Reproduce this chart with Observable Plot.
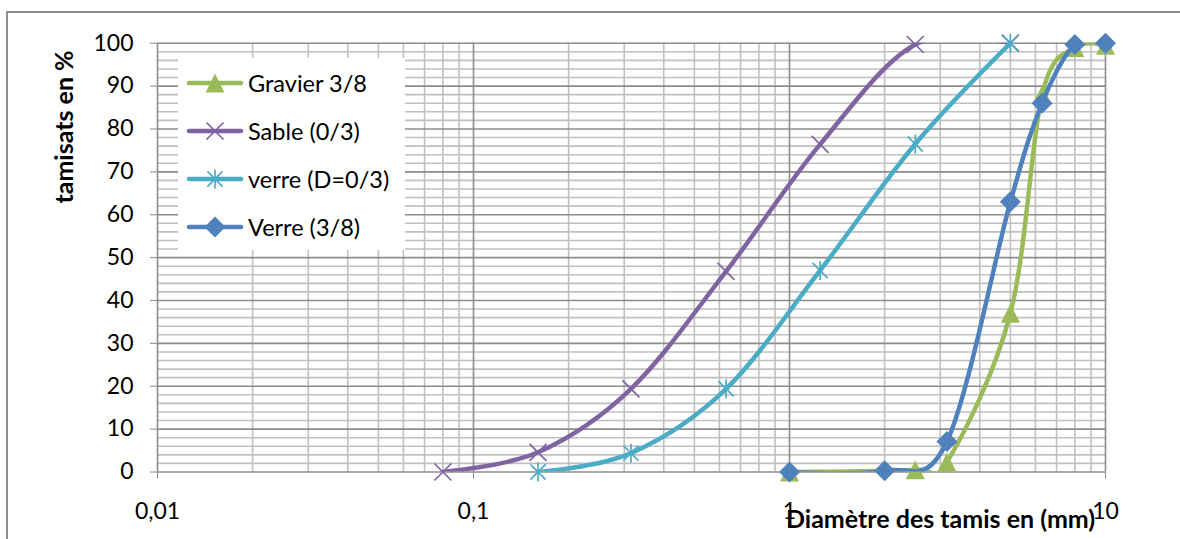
<!DOCTYPE html>
<html>
<head>
<meta charset="utf-8">
<script src="https://cdn.jsdelivr.net/npm/d3@7"></script>
<script src="https://cdn.jsdelivr.net/npm/@observablehq/plot@0.6"></script>
<style>
  html, body { margin: 0; padding: 0; background: #fff; }
  #wrap { position: relative; width: 1180px; height: 539px; overflow: hidden; font-family: Lato, "Liberation Sans", sans-serif; }
  #chart { position: absolute; left: 0; top: 0; }
  #frame { position: absolute; left: 6px; top: 11px; width: 1400px; height: 800px; border-left: 2px solid #8c8c8c; border-top: 2px solid #8c8c8c; pointer-events: none; }
  #legend { position: absolute; left: 178px; top: 58px; width: 227px; height: 192px; background: #fff; }
  .item { position: absolute; left: 8px; height: 30px; display: flex; align-items: center; font-size: 23.5px; color: #000; white-space: nowrap; }
  .item svg { margin-right: 4px; }
  #ytitle { position: absolute; left: 63px; top: 127px; transform: translate(-50%, -50%) rotate(-90deg); font-weight: bold; font-size: 25px; line-height: 1; white-space: nowrap; }
  #xtitle { position: absolute; left: 786px; top: 506px; font-weight: bold; font-size: 25px; line-height: 1; white-space: nowrap; }
</style>
</head>
<body>
<div id="wrap">
  <div id="chart"></div>
  <div id="legend"></div>
  <div id="ytitle">tamisats en %</div>
  <div id="xtitle">Diamètre des tamis en (mm)</div>
  <div id="frame"></div>
</div>
<script>
// ---- data (sieve openings in mm, passing in %) ----
const seriesNames = ["Gravier 3/8", "Sable (0/3)", "verre (D=0/3)", "Verre (3/8)"];
const seriesColors = ["#9BBB59", "#8064A2", "#4BACC6", "#4F81BD"];

const sieveGravier = [1, 2.5, 3.15, 5, 6.3, 8, 10];
const passGravier  = [0, 0.5, 2.3, 37, 88, 99, 99.5];

const sieveSable = [0.08, 0.16, 0.315, 0.63, 1.25, 2.5, 5];
const passSable  = [0, 4.6, 19.4, 46.8, 76.4, 99.7, 100];

const sieveVerreFin = [0.16, 0.315, 0.63, 1.25, 2.5, 5];
const passVerreFin  = [0, 4.4, 19.4, 47, 76.5, 100];

const sieveVerreGros = [1, 2, 3.15, 5, 6.3, 8, 10];
const passVerreGros  = [0, 0.3, 7.1, 63, 86, 99.7, 100];

const xTickValues = [0.01, 0.1, 1, 10];
const xTickLabels = ["0,01", "0,1", "1", "10"];
const yTickValues = [0, 10, 20, 30, 40, 50, 60, 70, 80, 90, 100];

// ---- marker symbols (Excel-like), size -> half extent r ----
const half = size => Math.sqrt(size / Math.PI);
const symTriangle = { draw(c, s) { const h = half(s); c.moveTo(0, -h); c.lineTo(h, h); c.lineTo(-h, h); c.closePath(); } };
const symDiamond  = { draw(c, s) { const h = half(s); c.moveTo(0, -h); c.lineTo(h, 0); c.lineTo(0, h); c.lineTo(-h, 0); c.closePath(); } };
const symX        = { draw(c, s) { const h = half(s); c.moveTo(-h, -h); c.lineTo(h, h); c.moveTo(-h, h); c.lineTo(h, -h); } };
const symStar     = { draw(c, s) { const h = half(s); const k = h * 0.8; c.moveTo(-k, -k); c.lineTo(k, k); c.moveTo(-k, k); c.lineTo(k, -k); c.moveTo(0, -h); c.lineTo(0, h); } };

const series = [
  { name: seriesNames[0], color: seriesColors[0], sieve: sieveGravier,   pass: passGravier,   symbol: symTriangle, r: 9.5, filled: true },
  { name: seriesNames[1], color: seriesColors[1], sieve: sieveSable,     pass: passSable,     symbol: symX,        r: 8.5, filled: false },
  { name: seriesNames[2], color: seriesColors[2], sieve: sieveVerreFin,  pass: passVerreFin,  symbol: symStar,     r: 9.5, filled: false },
  { name: seriesNames[3], color: seriesColors[3], sieve: sieveVerreGros, pass: passVerreGros, symbol: symDiamond,  r: 10.5, filled: true }
];

// grid values
const xMinor = [];
for (const dec of [0.01, 0.1, 1]) for (let k = 2; k <= 9; k++) xMinor.push(+(dec * k).toPrecision(3));
const yMinor = [];
for (let v = 0; v <= 100; v += 2) if (v % 10 !== 0) yMinor.push(v);

const marks = [
  Plot.ruleY(yMinor, { stroke: "#c0c0c0", strokeWidth: 1.6 }),
  Plot.ruleX(xMinor, { stroke: "#c0c0c0", strokeWidth: 1.6 }),
  Plot.ruleY(yTickValues, { stroke: "#8c8c8c", strokeWidth: 1.6 }),
  Plot.ruleX(xTickValues, { stroke: "#8c8c8c", strokeWidth: 1.6 }),
  Plot.axisY({ ticks: yTickValues, tickSize: 7, tickPadding: 17, label: null, fontSize: 23, stroke: "#8c8c8c", fill: "#000" }),
  Plot.axisX({ ticks: xTickValues, tickFormat: d => xTickLabels[xTickValues.indexOf(d)], tickSize: 7, tickPadding: 24, label: null, fontSize: 23, stroke: "#8c8c8c", fill: "#000" })
];

for (const s of series) {
  const rows = s.sieve.map((d, i) => ({ d, p: s.pass[i] }));
  marks.push(Plot.line(rows, { x: "d", y: "p", stroke: s.color, strokeWidth: 4.5, curve: "cardinal", tension: 0, clip: true, strokeLinecap: "round" }));
  marks.push(Plot.dot(rows, {
    x: "d", y: "p", symbol: s.symbol, r: s.r,
    fill: s.filled ? s.color : "none",
    stroke: s.filled ? "none" : s.color,
    strokeWidth: s.filled ? 0 : 1.7
  }));
}

const chart = Plot.plot({
  width: 1180,
  height: 539,
  marginLeft: 157,
  marginRight: 75,
  marginTop: 42.7,
  marginBottom: 67.5,
  style: { fontFamily: "Lato, 'Liberation Sans', sans-serif", background: "transparent", color: "#000" },
  x: { type: "log", domain: [0.01, 10] },
  y: { domain: [0, 100] },
  marks
});
document.getElementById("chart").appendChild(chart);

// ---- legend ----
const legend = document.getElementById("legend");
series.forEach((s, i) => {
  const item = document.createElement("div");
  item.className = "item";
  item.style.top = (10 + i * 48) + "px";
  const p = d3.path();
  s.symbol.draw(p, Math.PI * s.r * s.r);
  item.innerHTML =
    `<svg width="58" height="30" viewBox="-29 -15 58 30">
       <line x1="-26" x2="26" y1="0" y2="0" stroke="${s.color}" stroke-width="4.5" stroke-linecap="round"/>
       <path d="${p.toString()}" fill="${s.filled ? s.color : "none"}" stroke="${s.filled ? "none" : s.color}" stroke-width="1.7"/>
     </svg><span>${s.name}</span>`;
  legend.appendChild(item);
});
</script>
</body>
</html>
